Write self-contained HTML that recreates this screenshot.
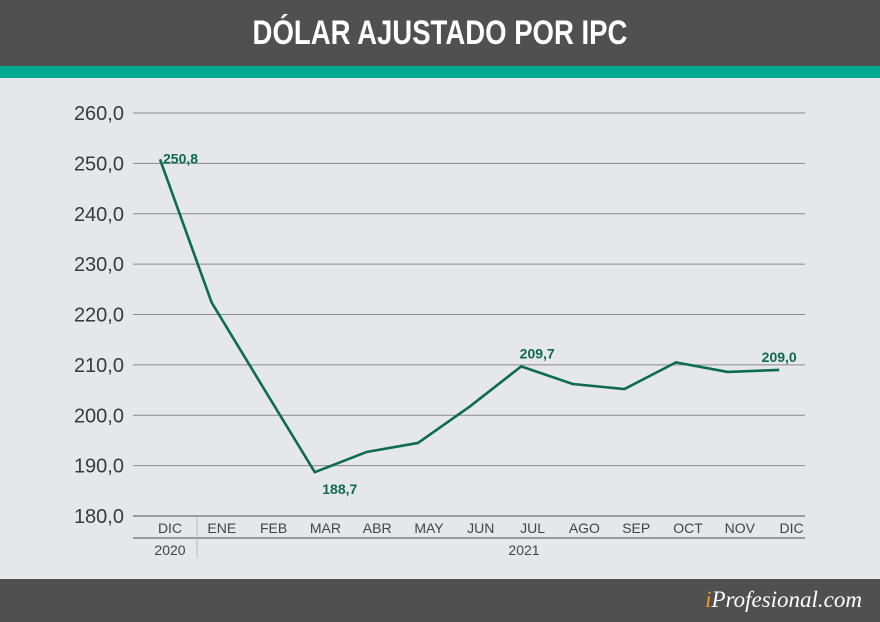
<!DOCTYPE html>
<html><head><meta charset="utf-8"><style>
body{margin:0;width:880px;height:622px;background:#e6e7e8;font-family:"Liberation Sans",sans-serif;overflow:hidden;position:relative}
#hdr{position:absolute;left:0;top:0;width:880px;height:66px;background:#505050}
#hdr div{position:absolute;left:0;width:880px;top:14px;text-align:center;color:#fff;font-weight:bold;font-size:34px;font-family:"Liberation Sans Narrow","Liberation Sans",sans-serif;transform:scaleX(0.81)}
#stripe{position:absolute;left:0;top:66px;width:880px;height:12px;background:#00a98f}
#ftr{position:absolute;left:0;top:579px;width:880px;height:43px;background:#505050}
#logo{position:absolute;right:18px;top:8px;color:#fff;font-family:"Liberation Serif",serif;font-style:italic;font-size:23px}
#logo span{color:#f39c12}
svg{position:absolute;left:0;top:0}
</style></head><body>
<div id="hdr"><div>DÓLAR AJUSTADO POR IPC</div></div>
<div id="stripe"></div>
<svg id="chart" width="880" height="622"></svg>
<div id="ftr"><div id="logo"><span>i</span>Profesional.com</div></div>
<script>
const months=["DIC","ENE","FEB","MAR","ABR","MAY","JUN","JUL","AGO","SEP","OCT","NOV","DIC"];
const values=[250.8,222.4,205.5,188.7,192.7,194.5,201.7,209.7,206.2,205.2,210.5,208.6,209.0];
const yTicks=[180,190,200,210,220,230,240,250,260];
const labeled=[0,3,7,12];
const NS="http://www.w3.org/2000/svg";
const svg=document.getElementById('chart');
const x=i=>160+i*51.6;
const lx=i=>170+i*51.8;
const y=v=>516-(v-180)*5.0375;
function mk(t,a){const e=document.createElementNS(NS,t);for(const k in a)e.setAttribute(k,a[k]);svg.appendChild(e);return e;}
const fmt=v=>v.toFixed(1).replace('.',',');
yTicks.forEach(v=>{
 const l=mk('line',{x1:133,x2:805,y1:y(v),y2:y(v),stroke:v===180?'#999':'#8a8a8a','stroke-width':v===180?2:1});
 
 
 const t=mk('text',{x:124,y:y(v)+7,'text-anchor':'end','font-size':20,fill:'#3a3a3a'});
 t.textContent=fmt(v);
 
 
});
const l2=mk('line',{x1:133,x2:805,y1:538,y2:538,stroke:'#999','stroke-width':2});


const sep=mk('line',{x1:197,x2:197,y1:516,y2:558,stroke:'#bbb','stroke-width':1});


months.forEach((m,i)=>{
 const t=mk('text',{x:lx(i),y:533,'text-anchor':'middle','font-size':14,fill:'#444'});
 t.textContent=m;
 
 
});
const y1=mk('text',{x:170,y:555,'text-anchor':'middle','font-size':14,fill:'#444'});y1.textContent='2020';


const y2=mk('text',{x:524,y:555,'text-anchor':'middle','font-size':14,fill:'#444'});y2.textContent='2021';


const pl=mk('polyline',{points:values.map((v,i)=>x(i)+','+y(v)).join(' '),fill:'none',stroke:'#0d6b52','stroke-width':2.6,'stroke-linejoin':'round'});


labeled.forEach(i=>{
 const v=values[i];let tx=x(i)+16,ty=y(v)-8,anc='middle';
 if(i===0){tx=x(i)+3;ty=y(v)+4;anc='start';}
 if(i===3){ty=y(v)+22;tx=x(i)+25;}
 if(i===12){tx=x(i);}
 const t=mk('text',{x:tx,y:ty,'text-anchor':anc,'font-size':14,'font-weight':'bold',fill:'#0d6b52'});
 t.textContent=fmt(v);
 
 
});
</script>
</body></html>
